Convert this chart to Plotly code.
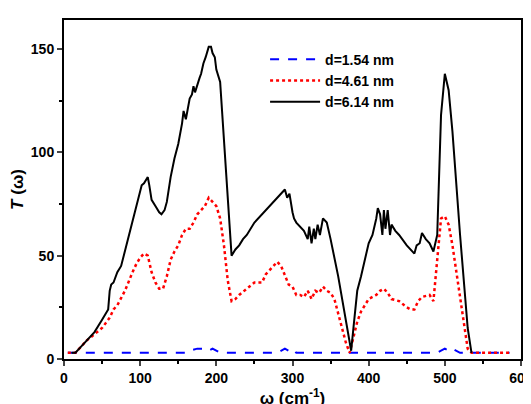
import plotly.graph_objects as go

x_black = [10,15,20,30,40,50,58,60,62,65,70,75,80,90,100,102,105,110,112,115,120,125,128,132,135,140,145,150,155,157,160,165,168,170,172,175,178,180,183,186,188,190,193,195,198,200,205,210,215,220,225,230,235,240,250,260,270,280,290,293,296,300,302,305,310,315,320,322,325,328,330,333,336,340,345,350,360,370,377,380,385,390,395,400,405,410,412,415,418,420,422,425,428,430,435,440,450,455,460,463,467,470,475,480,485,490,495,500,505,510,520,530,535]
y_black = [3,3,5,9,13,19,24,33,36,37,42,45,52,66,80,84,85,88,84,77,74,71,70,72,76,88,97,104,114,120,116,126,128,132,129,133,136,138,143,146,148,151,151,148,146,140,134,105,78,50,53,55,58,60,66,70,74,78,82,78,80,71,68,66,64,62,58,64,56,63,58,65,60,68,66,58,40,18,4,15,33,40,48,56,60,68,73,70,60,72,63,72,60,65,62,60,55,53,51,55,56,61,58,56,52,60,118,138,130,110,60,15,3]

x_red = [5,15,20,30,40,50,60,65,70,80,90,95,100,105,110,115,120,125,130,135,140,145,150,155,160,165,170,175,180,185,190,195,200,205,210,215,220,225,230,240,250,255,260,265,270,280,285,290,295,300,305,310,315,320,325,330,335,340,345,350,355,360,365,370,375,380,385,390,400,410,415,420,425,430,440,450,455,460,465,470,480,485,490,495,500,505,510,520,530,535,560,585]
y_red = [3,3,5,9,12,15,20,24,26,33,42,46,49,51,50,42,37,34,34,40,48,52,55,60,63,63,66,70,72,74,78,76,74,68,55,38,28,29,31,34,37,37,37,41,43,47,45,40,36,35,31,31,30,33,29,33,32,35,33,32,29,22,15,8,3,10,18,23,29,31,33,34,32,29,28,25,24,24,28,30,31,28,50,68,69,65,55,30,5,3,3,3]

x_blue = [5,100,160,165,175,185,190,195,200,205,280,285,290,295,300,305,320,370,480,490,495,500,505,510,520,585]
y_blue = [3,3,3,4,5,5,4,5,4,3,3,4,5,4,5,3,3,3,3,3,4,5,4,5,3,3]

names = ["d=1.54 nm", "d=4.61 nm", "d=6.14 nm"]

fig = go.Figure()
fig.add_trace(go.Scatter(x=x_blue, y=y_blue, mode="lines", name=names[0],
                         line=dict(color="#0000ff", dash="dash", width=2)))
fig.add_trace(go.Scatter(x=x_red, y=y_red, mode="lines", name=names[1],
                         line=dict(color="#ff0000", dash="dot", width=2.5)))
fig.add_trace(go.Scatter(x=x_black, y=y_black, mode="lines", name=names[2],
                         line=dict(color="black", width=2)))

font = dict(family="Liberation Sans, Arial", size=13, color="black")
axis_common = dict(showgrid=False, zeroline=False, showline=True, linecolor="black",
                   linewidth=2, mirror=True, ticks="outside", ticklen=5, tickwidth=2,
                   automargin=False,
                   tickfont=dict(family="Liberation Sans", size=14, color="black", weight="bold"),
                   minor=dict(ticks="outside", ticklen=3, tickwidth=1.5, tickcolor="black"))
fig.update_layout(
    width=531, height=404, plot_bgcolor="white", paper_bgcolor="white",
    margin=dict(l=56, r=18, t=12, b=53), font=font,
    xaxis=dict(range=[0, 600], dtick=100, minor_dtick=50,
               title=dict(text="<b>ω (cm<sup>-1</sup>)</b>", font=dict(size=17), standoff=4), **axis_common),
    yaxis=dict(range=[0, 164], dtick=50, minor_dtick=25,
               title=dict(text="<b><i>T</i> (ω)</b>", font=dict(size=17), standoff=8), **axis_common),
    legend=dict(x=0.44, y=0.93, xanchor="left", yanchor="top", bgcolor="rgba(0,0,0,0)",
                font=dict(size=14, weight="bold"), tracegroupgap=0, itemwidth=50),
    showlegend=True,
)
fig.write_html("out.html")
